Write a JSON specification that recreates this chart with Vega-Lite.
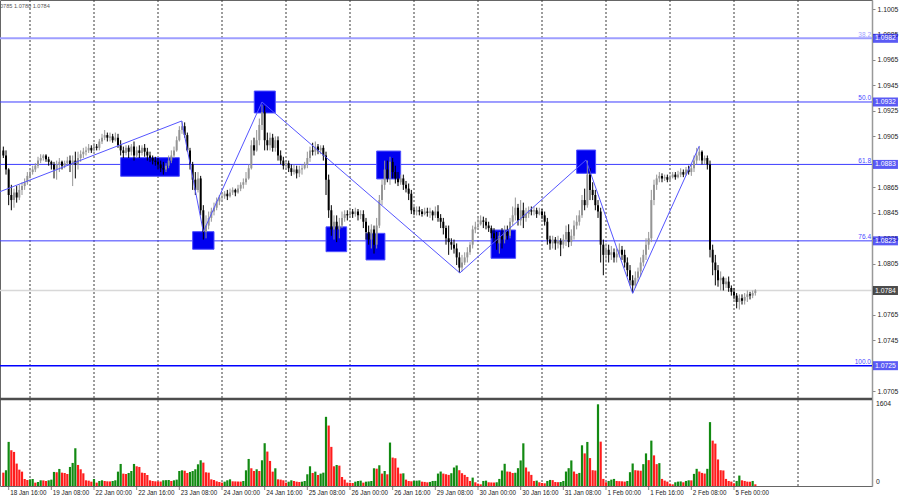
{
"$schema":"https://vega.github.io/schema/vega-lite/v6.json",
"width":872,"height":486,
"autosize":{"type":"none"},
"padding":{"left":0,"top":0,"right":28,"bottom":14},
"background":"white",
"config":{"view":{"stroke":"#666","strokeWidth":1},"scale":{"continuousPadding":0},"axis":{"labelFont":"Liberation Sans"},"text":{"font":"Liberation Sans"}},
"resolve":{"scale":{"y":"independent"},"axis":{"y":"independent"}},
"datasets":{
"grid":[{"i":10},{"i":34},{"i":58},{"i":82},{"i":106},{"i":130},{"i":154},{"i":178},{"i":202},{"i":226},{"i":250},{"i":274},{"i":298}],
"dates":[{"i":2,"t":"18 Jan 16:00"},{"i":18,"t":"19 Jan 08:00"},{"i":34,"t":"22 Jan 00:00"},{"i":50,"t":"22 Jan 16:00"},{"i":66,"t":"23 Jan 08:00"},{"i":82,"t":"24 Jan 00:00"},{"i":98,"t":"24 Jan 16:00"},{"i":114,"t":"25 Jan 08:00"},{"i":130,"t":"26 Jan 00:00"},{"i":146,"t":"26 Jan 16:00"},{"i":162,"t":"29 Jan 08:00"},{"i":178,"t":"30 Jan 00:00"},{"i":194,"t":"30 Jan 16:00"},{"i":210,"t":"31 Jan 08:00"},{"i":226,"t":"1 Feb 00:00"},{"i":242,"t":"1 Feb 16:00"},{"i":258,"t":"2 Feb 08:00"},{"i":274,"t":"5 Feb 00:00"}],
"fib":[{"p":1.0982,"lab":"38.2"},{"p":1.0932,"lab":"50.0"},{"p":1.0883,"lab":"61.8"},{"p":1.0823,"lab":"76.4"},{"p":1.0725,"lab":"100.0"}],
"boxes":[{"p":1.0982,"k":"b"},{"p":1.0932,"k":"b"},{"p":1.0883,"k":"b"},{"p":1.0823,"k":"b"},{"p":1.0725,"k":"b"},{"p":1.0784,"k":"k"}],
"rects":[{"a":44.0,"b":66.0,"lo":1.08737,"hi":1.08883},{"a":71.0,"b":79.0,"lo":1.08164,"hi":1.08302},{"a":94.1,"b":102.0,"lo":1.09234,"hi":1.09406},{"a":121.0,"b":128.75,"lo":1.08145,"hi":1.0834},{"a":136.0,"b":143.1,"lo":1.0808,"hi":1.08289},{"a":140.0,"b":149.0,"lo":1.08716,"hi":1.08935},{"a":182.9,"b":192.1,"lo":1.08093,"hi":1.08315},{"a":215.0,"b":222.1,"lo":1.0876,"hi":1.08943}],
"zz":[{"n":0,"i":-1.25,"p":1.08616},{"n":1,"i":66.9,"p":1.09171},{"n":2,"i":75.0,"p":1.08302},{"n":3,"i":97.0,"p":1.0932},{"n":4,"i":171.2,"p":1.07978},{"n":5,"i":218.5,"p":1.08865},{"n":6,"i":236.0,"p":1.07818},{"n":7,"i":261.0,"p":1.08975}],
"candles":[
{"i":0,"o":1.0894,"h":1.0897,"l":1.0888,"c":1.0890,"v":262,"g":0},
{"i":1,"o":1.0890,"h":1.0894,"l":1.0875,"c":1.0879,"v":308,"g":1},
{"i":2,"o":1.0879,"h":1.0880,"l":1.0851,"c":1.0859,"v":866,"g":1},
{"i":3,"o":1.0859,"h":1.0867,"l":1.0847,"c":1.0855,"v":702,"g":0},
{"i":4,"o":1.0855,"h":1.0864,"l":1.0849,"c":1.0861,"v":669,"g":0},
{"i":5,"o":1.0861,"h":1.0866,"l":1.0853,"c":1.0857,"v":440,"g":0},
{"i":6,"o":1.0857,"h":1.0867,"l":1.0855,"c":1.0863,"v":321,"g":0},
{"i":7,"o":1.0863,"h":1.0869,"l":1.0859,"c":1.0866,"v":282,"g":0},
{"i":8,"o":1.0866,"h":1.0872,"l":1.0863,"c":1.0869,"v":138,"g":0},
{"i":9,"o":1.0869,"h":1.0877,"l":1.0867,"c":1.0874,"v":118,"g":0},
{"i":10,"o":1.0874,"h":1.0880,"l":1.0872,"c":1.0877,"v":131,"g":1},
{"i":11,"o":1.0877,"h":1.0882,"l":1.0875,"c":1.0879,"v":135,"g":1},
{"i":12,"o":1.0879,"h":1.0884,"l":1.0877,"c":1.0882,"v":66,"g":0},
{"i":13,"o":1.0882,"h":1.0889,"l":1.0880,"c":1.0886,"v":79,"g":1},
{"i":14,"o":1.0886,"h":1.0891,"l":1.0884,"c":1.0888,"v":112,"g":1},
{"i":15,"o":1.0888,"h":1.0891,"l":1.0886,"c":1.0890,"v":110,"g":0},
{"i":16,"o":1.0890,"h":1.0891,"l":1.0885,"c":1.0887,"v":98,"g":0},
{"i":17,"o":1.0887,"h":1.0889,"l":1.0882,"c":1.0885,"v":112,"g":1},
{"i":18,"o":1.0885,"h":1.0886,"l":1.0879,"c":1.0883,"v":125,"g":1},
{"i":19,"o":1.0883,"h":1.0885,"l":1.0872,"c":1.0879,"v":276,"g":1},
{"i":20,"o":1.0879,"h":1.0886,"l":1.0871,"c":1.0883,"v":270,"g":0},
{"i":21,"o":1.0883,"h":1.0888,"l":1.0877,"c":1.0885,"v":335,"g":1},
{"i":22,"o":1.0885,"h":1.0886,"l":1.0879,"c":1.0882,"v":262,"g":0},
{"i":23,"o":1.0882,"h":1.0886,"l":1.0880,"c":1.0884,"v":255,"g":0},
{"i":24,"o":1.0884,"h":1.0889,"l":1.0882,"c":1.0886,"v":236,"g":0},
{"i":25,"o":1.0886,"h":1.0890,"l":1.0877,"c":1.0883,"v":374,"g":1},
{"i":26,"o":1.0883,"h":1.0890,"l":1.0866,"c":1.0886,"v":453,"g":1},
{"i":27,"o":1.0886,"h":1.0893,"l":1.0872,"c":1.0883,"v":741,"g":1},
{"i":28,"o":1.0883,"h":1.0893,"l":1.0879,"c":1.0888,"v":413,"g":0},
{"i":29,"o":1.0888,"h":1.0894,"l":1.0885,"c":1.0891,"v":328,"g":0},
{"i":30,"o":1.0891,"h":1.0896,"l":1.0888,"c":1.0893,"v":249,"g":0},
{"i":31,"o":1.0893,"h":1.0897,"l":1.0890,"c":1.0894,"v":112,"g":0},
{"i":32,"o":1.0894,"h":1.0899,"l":1.0892,"c":1.0896,"v":105,"g":0},
{"i":33,"o":1.0896,"h":1.0898,"l":1.0892,"c":1.0894,"v":85,"g":0},
{"i":34,"o":1.0894,"h":1.0900,"l":1.0893,"c":1.0897,"v":138,"g":1},
{"i":35,"o":1.0897,"h":1.0899,"l":1.0894,"c":1.0896,"v":66,"g":0},
{"i":36,"o":1.0896,"h":1.0903,"l":1.0894,"c":1.0901,"v":98,"g":1},
{"i":37,"o":1.0901,"h":1.0907,"l":1.0899,"c":1.0904,"v":112,"g":1},
{"i":38,"o":1.0904,"h":1.0910,"l":1.0902,"c":1.0906,"v":98,"g":0},
{"i":39,"o":1.0906,"h":1.0908,"l":1.0901,"c":1.0904,"v":92,"g":0},
{"i":40,"o":1.0904,"h":1.0908,"l":1.0901,"c":1.0905,"v":90,"g":0},
{"i":41,"o":1.0905,"h":1.0907,"l":1.0900,"c":1.0902,"v":98,"g":1},
{"i":42,"o":1.0902,"h":1.0908,"l":1.0901,"c":1.0904,"v":112,"g":1},
{"i":43,"o":1.0904,"h":1.0907,"l":1.0896,"c":1.0898,"v":282,"g":1},
{"i":44,"o":1.0898,"h":1.0902,"l":1.0890,"c":1.0894,"v":433,"g":1},
{"i":45,"o":1.0894,"h":1.0897,"l":1.0888,"c":1.0892,"v":243,"g":0},
{"i":46,"o":1.0892,"h":1.0898,"l":1.0890,"c":1.0896,"v":236,"g":0},
{"i":47,"o":1.0896,"h":1.0898,"l":1.0888,"c":1.0893,"v":256,"g":1},
{"i":48,"o":1.0893,"h":1.0899,"l":1.0890,"c":1.0897,"v":295,"g":1},
{"i":49,"o":1.0897,"h":1.0901,"l":1.0886,"c":1.0890,"v":433,"g":1},
{"i":50,"o":1.0890,"h":1.0897,"l":1.0888,"c":1.0894,"v":387,"g":0},
{"i":51,"o":1.0894,"h":1.0898,"l":1.0888,"c":1.0892,"v":374,"g":0},
{"i":52,"o":1.0892,"h":1.0898,"l":1.0890,"c":1.0896,"v":262,"g":0},
{"i":53,"o":1.0896,"h":1.0899,"l":1.0889,"c":1.0893,"v":255,"g":0},
{"i":54,"o":1.0893,"h":1.0896,"l":1.0886,"c":1.0890,"v":216,"g":0},
{"i":55,"o":1.0890,"h":1.0893,"l":1.0885,"c":1.0888,"v":112,"g":0},
{"i":56,"o":1.0888,"h":1.0890,"l":1.0883,"c":1.0886,"v":98,"g":0},
{"i":57,"o":1.0886,"h":1.0889,"l":1.0882,"c":1.0885,"v":92,"g":0},
{"i":58,"o":1.0885,"h":1.0888,"l":1.0879,"c":1.0883,"v":90,"g":0},
{"i":59,"o":1.0883,"h":1.0886,"l":1.0877,"c":1.0880,"v":88,"g":0},
{"i":60,"o":1.0880,"h":1.0885,"l":1.0875,"c":1.0879,"v":112,"g":1},
{"i":61,"o":1.0879,"h":1.0884,"l":1.0877,"c":1.0882,"v":115,"g":1},
{"i":62,"o":1.0882,"h":1.0890,"l":1.0880,"c":1.0886,"v":118,"g":1},
{"i":63,"o":1.0886,"h":1.0894,"l":1.0884,"c":1.0890,"v":98,"g":0},
{"i":64,"o":1.0890,"h":1.0897,"l":1.0888,"c":1.0894,"v":112,"g":1},
{"i":65,"o":1.0894,"h":1.0905,"l":1.0893,"c":1.0902,"v":125,"g":1},
{"i":66,"o":1.0902,"h":1.0913,"l":1.0901,"c":1.0910,"v":295,"g":1},
{"i":67,"o":1.0910,"h":1.0917,"l":1.0907,"c":1.0913,"v":308,"g":1},
{"i":68,"o":1.0913,"h":1.0916,"l":1.0904,"c":1.0906,"v":300,"g":0},
{"i":69,"o":1.0906,"h":1.0908,"l":1.0893,"c":1.0894,"v":256,"g":0},
{"i":70,"o":1.0894,"h":1.0896,"l":1.0879,"c":1.0883,"v":276,"g":1},
{"i":71,"o":1.0883,"h":1.0885,"l":1.0863,"c":1.0871,"v":295,"g":1},
{"i":72,"o":1.0871,"h":1.0877,"l":1.0859,"c":1.0863,"v":328,"g":1},
{"i":73,"o":1.0863,"h":1.0877,"l":1.0861,"c":1.0872,"v":426,"g":1},
{"i":74,"o":1.0872,"h":1.0874,"l":1.0843,"c":1.0847,"v":505,"g":1},
{"i":75,"o":1.0847,"h":1.0851,"l":1.0824,"c":1.0830,"v":459,"g":0},
{"i":76,"o":1.0830,"h":1.0843,"l":1.0825,"c":1.0835,"v":269,"g":0},
{"i":77,"o":1.0835,"h":1.0846,"l":1.0832,"c":1.0841,"v":262,"g":0},
{"i":78,"o":1.0841,"h":1.0849,"l":1.0838,"c":1.0846,"v":131,"g":0},
{"i":79,"o":1.0846,"h":1.0853,"l":1.0843,"c":1.0849,"v":118,"g":0},
{"i":80,"o":1.0849,"h":1.0857,"l":1.0847,"c":1.0854,"v":92,"g":0},
{"i":81,"o":1.0854,"h":1.0859,"l":1.0851,"c":1.0857,"v":79,"g":0},
{"i":82,"o":1.0857,"h":1.0861,"l":1.0855,"c":1.0858,"v":66,"g":0},
{"i":83,"o":1.0858,"h":1.0862,"l":1.0856,"c":1.0860,"v":85,"g":1},
{"i":84,"o":1.0860,"h":1.0863,"l":1.0855,"c":1.0858,"v":112,"g":1},
{"i":85,"o":1.0858,"h":1.0864,"l":1.0857,"c":1.0861,"v":131,"g":1},
{"i":86,"o":1.0861,"h":1.0865,"l":1.0859,"c":1.0863,"v":92,"g":0},
{"i":87,"o":1.0863,"h":1.0864,"l":1.0858,"c":1.0861,"v":90,"g":0},
{"i":88,"o":1.0861,"h":1.0867,"l":1.0860,"c":1.0864,"v":88,"g":0},
{"i":89,"o":1.0864,"h":1.0869,"l":1.0862,"c":1.0867,"v":86,"g":0},
{"i":90,"o":1.0867,"h":1.0872,"l":1.0864,"c":1.0869,"v":98,"g":1},
{"i":91,"o":1.0869,"h":1.0877,"l":1.0867,"c":1.0872,"v":308,"g":1},
{"i":92,"o":1.0872,"h":1.0883,"l":1.0871,"c":1.0880,"v":531,"g":1},
{"i":93,"o":1.0880,"h":1.0902,"l":1.0879,"c":1.0898,"v":348,"g":0},
{"i":94,"o":1.0898,"h":1.0904,"l":1.0890,"c":1.0894,"v":295,"g":0},
{"i":95,"o":1.0894,"h":1.0910,"l":1.0893,"c":1.0902,"v":328,"g":1},
{"i":96,"o":1.0902,"h":1.0919,"l":1.0898,"c":1.0914,"v":295,"g":0},
{"i":97,"o":1.0914,"h":1.0930,"l":1.0910,"c":1.0924,"v":505,"g":1},
{"i":98,"o":1.0924,"h":1.0929,"l":1.0894,"c":1.0902,"v":840,"g":1},
{"i":99,"o":1.0902,"h":1.0908,"l":1.0894,"c":1.0898,"v":676,"g":0},
{"i":100,"o":1.0898,"h":1.0908,"l":1.0894,"c":1.0904,"v":492,"g":0},
{"i":101,"o":1.0904,"h":1.0907,"l":1.0893,"c":1.0896,"v":282,"g":0},
{"i":102,"o":1.0896,"h":1.0905,"l":1.0893,"c":1.0902,"v":348,"g":1},
{"i":103,"o":1.0902,"h":1.0905,"l":1.0886,"c":1.0890,"v":131,"g":0},
{"i":104,"o":1.0890,"h":1.0894,"l":1.0883,"c":1.0886,"v":125,"g":0},
{"i":105,"o":1.0886,"h":1.0889,"l":1.0879,"c":1.0882,"v":112,"g":0},
{"i":106,"o":1.0882,"h":1.0886,"l":1.0879,"c":1.0884,"v":66,"g":0},
{"i":107,"o":1.0884,"h":1.0886,"l":1.0877,"c":1.0880,"v":85,"g":1},
{"i":108,"o":1.0880,"h":1.0883,"l":1.0874,"c":1.0877,"v":112,"g":1},
{"i":109,"o":1.0877,"h":1.0883,"l":1.0875,"c":1.0879,"v":98,"g":0},
{"i":110,"o":1.0879,"h":1.0882,"l":1.0872,"c":1.0876,"v":85,"g":0},
{"i":111,"o":1.0876,"h":1.0882,"l":1.0873,"c":1.0879,"v":79,"g":0},
{"i":112,"o":1.0879,"h":1.0883,"l":1.0875,"c":1.0880,"v":85,"g":1},
{"i":113,"o":1.0880,"h":1.0885,"l":1.0879,"c":1.0883,"v":98,"g":1},
{"i":114,"o":1.0883,"h":1.0893,"l":1.0880,"c":1.0888,"v":230,"g":1},
{"i":115,"o":1.0888,"h":1.0897,"l":1.0885,"c":1.0894,"v":387,"g":1},
{"i":116,"o":1.0894,"h":1.0900,"l":1.0890,"c":1.0893,"v":256,"g":0},
{"i":117,"o":1.0893,"h":1.0901,"l":1.0890,"c":1.0897,"v":282,"g":1},
{"i":118,"o":1.0897,"h":1.0899,"l":1.0891,"c":1.0894,"v":216,"g":0},
{"i":119,"o":1.0894,"h":1.0898,"l":1.0891,"c":1.0896,"v":243,"g":1},
{"i":120,"o":1.0896,"h":1.0898,"l":1.0886,"c":1.0890,"v":262,"g":1},
{"i":121,"o":1.0890,"h":1.0893,"l":1.0859,"c":1.0871,"v":1358,"g":1},
{"i":122,"o":1.0871,"h":1.0875,"l":1.0841,"c":1.0847,"v":1187,"g":0},
{"i":123,"o":1.0847,"h":1.0851,"l":1.0827,"c":1.0832,"v":768,"g":0},
{"i":124,"o":1.0832,"h":1.0843,"l":1.0824,"c":1.0838,"v":387,"g":0},
{"i":125,"o":1.0838,"h":1.0843,"l":1.0822,"c":1.0832,"v":413,"g":1},
{"i":126,"o":1.0832,"h":1.0841,"l":1.0825,"c":1.0835,"v":400,"g":0},
{"i":127,"o":1.0835,"h":1.0846,"l":1.0833,"c":1.0841,"v":177,"g":0},
{"i":128,"o":1.0841,"h":1.0847,"l":1.0838,"c":1.0844,"v":125,"g":0},
{"i":129,"o":1.0844,"h":1.0847,"l":1.0839,"c":1.0843,"v":66,"g":0},
{"i":130,"o":1.0843,"h":1.0849,"l":1.0841,"c":1.0846,"v":64,"g":0},
{"i":131,"o":1.0846,"h":1.0848,"l":1.0841,"c":1.0844,"v":59,"g":0},
{"i":132,"o":1.0844,"h":1.0849,"l":1.0842,"c":1.0846,"v":85,"g":1},
{"i":133,"o":1.0846,"h":1.0848,"l":1.0839,"c":1.0843,"v":98,"g":1},
{"i":134,"o":1.0843,"h":1.0847,"l":1.0840,"c":1.0844,"v":105,"g":1},
{"i":135,"o":1.0844,"h":1.0847,"l":1.0833,"c":1.0838,"v":66,"g":0},
{"i":136,"o":1.0838,"h":1.0841,"l":1.0824,"c":1.0830,"v":85,"g":1},
{"i":137,"o":1.0830,"h":1.0835,"l":1.0820,"c":1.0824,"v":90,"g":1},
{"i":138,"o":1.0824,"h":1.0836,"l":1.0817,"c":1.0832,"v":98,"g":1},
{"i":139,"o":1.0832,"h":1.0835,"l":1.0813,"c":1.0820,"v":348,"g":1},
{"i":140,"o":1.0820,"h":1.0841,"l":1.0817,"c":1.0835,"v":340,"g":0},
{"i":141,"o":1.0835,"h":1.0859,"l":1.0833,"c":1.0855,"v":407,"g":1},
{"i":142,"o":1.0855,"h":1.0871,"l":1.0851,"c":1.0867,"v":243,"g":0},
{"i":143,"o":1.0867,"h":1.0886,"l":1.0863,"c":1.0879,"v":295,"g":1},
{"i":144,"o":1.0879,"h":1.0886,"l":1.0869,"c":1.0872,"v":230,"g":0},
{"i":145,"o":1.0872,"h":1.0889,"l":1.0867,"c":1.0885,"v":853,"g":1},
{"i":146,"o":1.0885,"h":1.0888,"l":1.0872,"c":1.0877,"v":558,"g":0},
{"i":147,"o":1.0877,"h":1.0882,"l":1.0868,"c":1.0872,"v":545,"g":0},
{"i":148,"o":1.0872,"h":1.0877,"l":1.0866,"c":1.0869,"v":361,"g":0},
{"i":149,"o":1.0869,"h":1.0875,"l":1.0867,"c":1.0872,"v":243,"g":0},
{"i":150,"o":1.0872,"h":1.0875,"l":1.0863,"c":1.0867,"v":249,"g":1},
{"i":151,"o":1.0867,"h":1.0870,"l":1.0861,"c":1.0864,"v":125,"g":0},
{"i":152,"o":1.0864,"h":1.0868,"l":1.0855,"c":1.0860,"v":98,"g":0},
{"i":153,"o":1.0860,"h":1.0863,"l":1.0844,"c":1.0847,"v":92,"g":0},
{"i":154,"o":1.0847,"h":1.0850,"l":1.0843,"c":1.0846,"v":98,"g":1},
{"i":155,"o":1.0846,"h":1.0850,"l":1.0843,"c":1.0847,"v":105,"g":1},
{"i":156,"o":1.0847,"h":1.0850,"l":1.0843,"c":1.0846,"v":110,"g":1},
{"i":157,"o":1.0846,"h":1.0848,"l":1.0842,"c":1.0844,"v":85,"g":0},
{"i":158,"o":1.0844,"h":1.0849,"l":1.0843,"c":1.0846,"v":80,"g":0},
{"i":159,"o":1.0846,"h":1.0849,"l":1.0842,"c":1.0845,"v":72,"g":0},
{"i":160,"o":1.0845,"h":1.0849,"l":1.0841,"c":1.0846,"v":80,"g":1},
{"i":161,"o":1.0846,"h":1.0847,"l":1.0839,"c":1.0843,"v":99,"g":1},
{"i":162,"o":1.0843,"h":1.0850,"l":1.0841,"c":1.0846,"v":100,"g":1},
{"i":163,"o":1.0846,"h":1.0851,"l":1.0838,"c":1.0841,"v":244,"g":1},
{"i":164,"o":1.0841,"h":1.0844,"l":1.0833,"c":1.0838,"v":284,"g":1},
{"i":165,"o":1.0838,"h":1.0841,"l":1.0828,"c":1.0833,"v":244,"g":0},
{"i":166,"o":1.0833,"h":1.0835,"l":1.0820,"c":1.0825,"v":231,"g":0},
{"i":167,"o":1.0825,"h":1.0835,"l":1.0812,"c":1.0822,"v":218,"g":0},
{"i":168,"o":1.0822,"h":1.0825,"l":1.0816,"c":1.0820,"v":251,"g":1},
{"i":169,"o":1.0820,"h":1.0824,"l":1.0813,"c":1.0817,"v":363,"g":1},
{"i":170,"o":1.0817,"h":1.0821,"l":1.0804,"c":1.0810,"v":403,"g":1},
{"i":171,"o":1.0810,"h":1.0814,"l":1.0798,"c":1.0802,"v":310,"g":0},
{"i":172,"o":1.0802,"h":1.0812,"l":1.0799,"c":1.0806,"v":251,"g":0},
{"i":173,"o":1.0806,"h":1.0814,"l":1.0804,"c":1.0810,"v":218,"g":0},
{"i":174,"o":1.0810,"h":1.0818,"l":1.0806,"c":1.0814,"v":178,"g":0},
{"i":175,"o":1.0814,"h":1.0822,"l":1.0812,"c":1.0820,"v":99,"g":0},
{"i":176,"o":1.0820,"h":1.0835,"l":1.0817,"c":1.0832,"v":165,"g":1},
{"i":177,"o":1.0832,"h":1.0838,"l":1.0829,"c":1.0834,"v":73,"g":0},
{"i":178,"o":1.0834,"h":1.0841,"l":1.0832,"c":1.0836,"v":46,"g":0},
{"i":179,"o":1.0836,"h":1.0843,"l":1.0835,"c":1.0839,"v":33,"g":0},
{"i":180,"o":1.0839,"h":1.0842,"l":1.0833,"c":1.0838,"v":99,"g":1},
{"i":181,"o":1.0838,"h":1.0841,"l":1.0832,"c":1.0835,"v":105,"g":1},
{"i":182,"o":1.0835,"h":1.0838,"l":1.0830,"c":1.0833,"v":73,"g":0},
{"i":183,"o":1.0833,"h":1.0835,"l":1.0825,"c":1.0829,"v":70,"g":0},
{"i":184,"o":1.0829,"h":1.0833,"l":1.0822,"c":1.0825,"v":68,"g":0},
{"i":185,"o":1.0825,"h":1.0830,"l":1.0816,"c":1.0821,"v":73,"g":1},
{"i":186,"o":1.0821,"h":1.0830,"l":1.0813,"c":1.0827,"v":139,"g":1},
{"i":187,"o":1.0827,"h":1.0833,"l":1.0817,"c":1.0824,"v":304,"g":1},
{"i":188,"o":1.0824,"h":1.0835,"l":1.0821,"c":1.0830,"v":436,"g":1},
{"i":189,"o":1.0830,"h":1.0835,"l":1.0824,"c":1.0827,"v":284,"g":0},
{"i":190,"o":1.0827,"h":1.0841,"l":1.0825,"c":1.0838,"v":280,"g":0},
{"i":191,"o":1.0838,"h":1.0850,"l":1.0835,"c":1.0843,"v":257,"g":0},
{"i":192,"o":1.0843,"h":1.0857,"l":1.0839,"c":1.0849,"v":260,"g":1},
{"i":193,"o":1.0849,"h":1.0852,"l":1.0835,"c":1.0839,"v":350,"g":1},
{"i":194,"o":1.0839,"h":1.0855,"l":1.0835,"c":1.0847,"v":502,"g":1},
{"i":195,"o":1.0847,"h":1.0853,"l":1.0833,"c":1.0841,"v":838,"g":1},
{"i":196,"o":1.0841,"h":1.0849,"l":1.0838,"c":1.0844,"v":363,"g":0},
{"i":197,"o":1.0844,"h":1.0850,"l":1.0841,"c":1.0847,"v":284,"g":0},
{"i":198,"o":1.0847,"h":1.0850,"l":1.0843,"c":1.0846,"v":218,"g":0},
{"i":199,"o":1.0846,"h":1.0850,"l":1.0843,"c":1.0847,"v":99,"g":0},
{"i":200,"o":1.0847,"h":1.0849,"l":1.0841,"c":1.0844,"v":106,"g":1},
{"i":201,"o":1.0844,"h":1.0849,"l":1.0843,"c":1.0846,"v":73,"g":0},
{"i":202,"o":1.0846,"h":1.0848,"l":1.0840,"c":1.0843,"v":59,"g":0},
{"i":203,"o":1.0843,"h":1.0846,"l":1.0835,"c":1.0838,"v":53,"g":0},
{"i":204,"o":1.0838,"h":1.0841,"l":1.0820,"c":1.0824,"v":99,"g":1},
{"i":205,"o":1.0824,"h":1.0827,"l":1.0816,"c":1.0821,"v":119,"g":1},
{"i":206,"o":1.0821,"h":1.0827,"l":1.0817,"c":1.0824,"v":115,"g":0},
{"i":207,"o":1.0824,"h":1.0826,"l":1.0816,"c":1.0821,"v":79,"g":0},
{"i":208,"o":1.0821,"h":1.0827,"l":1.0817,"c":1.0823,"v":75,"g":0},
{"i":209,"o":1.0823,"h":1.0825,"l":1.0811,"c":1.0820,"v":79,"g":1},
{"i":210,"o":1.0820,"h":1.0828,"l":1.0817,"c":1.0824,"v":99,"g":1},
{"i":211,"o":1.0824,"h":1.0835,"l":1.0819,"c":1.0830,"v":284,"g":1},
{"i":212,"o":1.0830,"h":1.0836,"l":1.0818,"c":1.0822,"v":350,"g":1},
{"i":213,"o":1.0822,"h":1.0832,"l":1.0819,"c":1.0827,"v":502,"g":1},
{"i":214,"o":1.0827,"h":1.0839,"l":1.0824,"c":1.0835,"v":284,"g":0},
{"i":215,"o":1.0835,"h":1.0843,"l":1.0832,"c":1.0838,"v":238,"g":0},
{"i":216,"o":1.0838,"h":1.0847,"l":1.0835,"c":1.0843,"v":257,"g":1},
{"i":217,"o":1.0843,"h":1.0859,"l":1.0841,"c":1.0855,"v":799,"g":1},
{"i":218,"o":1.0855,"h":1.0864,"l":1.0847,"c":1.0851,"v":640,"g":0},
{"i":219,"o":1.0851,"h":1.0886,"l":1.0849,"c":1.0875,"v":865,"g":1},
{"i":220,"o":1.0875,"h":1.0880,"l":1.0855,"c":1.0863,"v":548,"g":0},
{"i":221,"o":1.0863,"h":1.0869,"l":1.0855,"c":1.0859,"v":310,"g":0},
{"i":222,"o":1.0859,"h":1.0863,"l":1.0847,"c":1.0851,"v":304,"g":0},
{"i":223,"o":1.0851,"h":1.0855,"l":1.0841,"c":1.0846,"v":1604,"g":1},
{"i":224,"o":1.0846,"h":1.0849,"l":1.0806,"c":1.0820,"v":871,"g":0},
{"i":225,"o":1.0820,"h":1.0824,"l":1.0796,"c":1.0812,"v":139,"g":0},
{"i":226,"o":1.0812,"h":1.0821,"l":1.0806,"c":1.0816,"v":73,"g":0},
{"i":227,"o":1.0816,"h":1.0820,"l":1.0806,"c":1.0812,"v":99,"g":1},
{"i":228,"o":1.0812,"h":1.0819,"l":1.0808,"c":1.0814,"v":125,"g":1},
{"i":229,"o":1.0814,"h":1.0817,"l":1.0806,"c":1.0810,"v":139,"g":1},
{"i":230,"o":1.0810,"h":1.0817,"l":1.0806,"c":1.0813,"v":99,"g":0},
{"i":231,"o":1.0813,"h":1.0821,"l":1.0810,"c":1.0816,"v":95,"g":0},
{"i":232,"o":1.0816,"h":1.0819,"l":1.0808,"c":1.0812,"v":92,"g":0},
{"i":233,"o":1.0812,"h":1.0816,"l":1.0802,"c":1.0806,"v":86,"g":0},
{"i":234,"o":1.0806,"h":1.0810,"l":1.0795,"c":1.0800,"v":99,"g":1},
{"i":235,"o":1.0800,"h":1.0804,"l":1.0788,"c":1.0792,"v":271,"g":1},
{"i":236,"o":1.0792,"h":1.0796,"l":1.0782,"c":1.0788,"v":442,"g":1},
{"i":237,"o":1.0788,"h":1.0799,"l":1.0786,"c":1.0794,"v":310,"g":0},
{"i":238,"o":1.0794,"h":1.0802,"l":1.0791,"c":1.0799,"v":304,"g":0},
{"i":239,"o":1.0799,"h":1.0810,"l":1.0795,"c":1.0806,"v":300,"g":0},
{"i":240,"o":1.0806,"h":1.0816,"l":1.0803,"c":1.0812,"v":429,"g":1},
{"i":241,"o":1.0812,"h":1.0825,"l":1.0808,"c":1.0820,"v":640,"g":1},
{"i":242,"o":1.0820,"h":1.0830,"l":1.0816,"c":1.0825,"v":508,"g":0},
{"i":243,"o":1.0825,"h":1.0863,"l":1.0822,"c":1.0855,"v":891,"g":1},
{"i":244,"o":1.0855,"h":1.0871,"l":1.0851,"c":1.0867,"v":601,"g":0},
{"i":245,"o":1.0867,"h":1.0875,"l":1.0863,"c":1.0872,"v":429,"g":0},
{"i":246,"o":1.0872,"h":1.0877,"l":1.0869,"c":1.0874,"v":449,"g":1},
{"i":247,"o":1.0874,"h":1.0876,"l":1.0869,"c":1.0872,"v":139,"g":0},
{"i":248,"o":1.0872,"h":1.0875,"l":1.0870,"c":1.0873,"v":106,"g":0},
{"i":249,"o":1.0873,"h":1.0875,"l":1.0869,"c":1.0871,"v":86,"g":0},
{"i":250,"o":1.0871,"h":1.0875,"l":1.0870,"c":1.0873,"v":46,"g":0},
{"i":251,"o":1.0873,"h":1.0877,"l":1.0872,"c":1.0875,"v":33,"g":0},
{"i":252,"o":1.0875,"h":1.0877,"l":1.0871,"c":1.0873,"v":73,"g":1},
{"i":253,"o":1.0873,"h":1.0878,"l":1.0872,"c":1.0875,"v":86,"g":1},
{"i":254,"o":1.0875,"h":1.0880,"l":1.0873,"c":1.0877,"v":90,"g":1},
{"i":255,"o":1.0877,"h":1.0879,"l":1.0873,"c":1.0875,"v":73,"g":0},
{"i":256,"o":1.0875,"h":1.0881,"l":1.0874,"c":1.0879,"v":99,"g":1},
{"i":257,"o":1.0879,"h":1.0882,"l":1.0875,"c":1.0877,"v":112,"g":1},
{"i":258,"o":1.0877,"h":1.0883,"l":1.0874,"c":1.0880,"v":110,"g":0},
{"i":259,"o":1.0880,"h":1.0890,"l":1.0877,"c":1.0886,"v":238,"g":1},
{"i":260,"o":1.0886,"h":1.0896,"l":1.0883,"c":1.0890,"v":337,"g":1},
{"i":261,"o":1.0890,"h":1.0897,"l":1.0886,"c":1.0893,"v":284,"g":0},
{"i":262,"o":1.0893,"h":1.0894,"l":1.0883,"c":1.0886,"v":257,"g":0},
{"i":263,"o":1.0886,"h":1.0890,"l":1.0883,"c":1.0888,"v":244,"g":0},
{"i":264,"o":1.0888,"h":1.0890,"l":1.0879,"c":1.0883,"v":337,"g":1},
{"i":265,"o":1.0883,"h":1.0886,"l":1.0810,"c":1.0816,"v":1254,"g":1},
{"i":266,"o":1.0816,"h":1.0820,"l":1.0796,"c":1.0806,"v":891,"g":0},
{"i":267,"o":1.0806,"h":1.0812,"l":1.0788,"c":1.0800,"v":832,"g":0},
{"i":268,"o":1.0800,"h":1.0804,"l":1.0787,"c":1.0792,"v":521,"g":0},
{"i":269,"o":1.0792,"h":1.0799,"l":1.0784,"c":1.0794,"v":310,"g":0},
{"i":270,"o":1.0794,"h":1.0795,"l":1.0784,"c":1.0789,"v":305,"g":0},
{"i":271,"o":1.0789,"h":1.0794,"l":1.0786,"c":1.0791,"v":139,"g":0},
{"i":272,"o":1.0791,"h":1.0795,"l":1.0783,"c":1.0786,"v":99,"g":0},
{"i":273,"o":1.0786,"h":1.0788,"l":1.0780,"c":1.0783,"v":86,"g":0},
{"i":274,"o":1.0783,"h":1.0786,"l":1.0777,"c":1.0780,"v":53,"g":0},
{"i":275,"o":1.0780,"h":1.0782,"l":1.0770,"c":1.0775,"v":99,"g":1},
{"i":276,"o":1.0775,"h":1.0781,"l":1.0769,"c":1.0778,"v":205,"g":1},
{"i":277,"o":1.0778,"h":1.0781,"l":1.0773,"c":1.0776,"v":112,"g":0},
{"i":278,"o":1.0776,"h":1.0782,"l":1.0773,"c":1.0779,"v":99,"g":0},
{"i":279,"o":1.0779,"h":1.0784,"l":1.0775,"c":1.0781,"v":86,"g":0},
{"i":280,"o":1.0781,"h":1.0783,"l":1.0777,"c":1.0780,"v":84,"g":0},
{"i":281,"o":1.0780,"h":1.0784,"l":1.0778,"c":1.0782,"v":99,"g":1},
{"i":282,"o":1.0782,"h":1.0785,"l":1.0780,"c":1.0784,"v":33,"g":0}
]
},
"layer":[
{"data":{"name":"grid"},"mark":{"type":"rule","color":"#3a3a3a","strokeDash":[2,2],"strokeWidth":1},
 "encoding":{"x":{"field":"i","type":"quantitative","scale":{"domain":[-1.25,325.75],"nice":false,"zero":false,"padding":0},"axis":null}}},
{"data":{"values":[{"p":1.0784}]},"mark":{"type":"rule","color":"#d8d8d8","strokeWidth":1.5},
 "encoding":{"y":{"field":"p","type":"quantitative","scale":{"domain":[1.063055,1.101207],"nice":false,"zero":false},
  "axis":{"orient":"right","title":null,"values":[1.0705,1.0745,1.0765,1.0805,1.0825,1.0845,1.0865,1.0905,1.0925,1.0945,1.0965,1.0985,1.1005],"format":".4f","tickSize":3,"tickColor":"#888","domainColor":"#999","domainWidth":1.5,"labelPadding":2,"labelFontSize":6.8,"labelColor":"#222","grid":false,"labelFlush":false,"labelOverlap":false,"labelBound":false}}}},
{"data":{"name":"fib"},"mark":{"type":"rule"},
 "encoding":{"y":{"field":"p","type":"quantitative","scale":{"domain":[1.063055,1.101207],"nice":false,"zero":false},"axis":null},
  "color":{"condition":[{"test":"datum.lab=='38.2'","value":"#9e9eff"},{"test":"datum.lab=='100.0'","value":"#0000ff"}],"value":"#3c3cff"},
  "strokeWidth":{"condition":[{"test":"datum.lab=='38.2'","value":2},{"test":"datum.lab=='100.0'","value":1.5}],"value":1}}},
{"data":{"name":"fib"},"mark":{"type":"text","align":"right","baseline":"bottom","dx":-1,"dy":-0.5,"fontSize":6.5},
 "encoding":{"x":{"value":"width"},"y":{"field":"p","type":"quantitative","scale":{"domain":[1.063055,1.101207],"nice":false,"zero":false},"axis":null},
  "text":{"field":"lab"},
  "color":{"condition":{"test":"datum.lab=='38.2'","value":"#9e9eff"},"value":"#4a4aff"}}},
{"data":{"values":[{"p":1.069885}]},"mark":{"type":"rule","color":"#4d4d4d","strokeWidth":2.5},
 "encoding":{"y":{"field":"p","type":"quantitative","scale":{"domain":[1.063055,1.101207],"nice":false,"zero":false},"axis":null}}},
{"data":{"name":"rects"},"mark":{"type":"rect","color":"#0000f0","stroke":"#4f4fff","strokeWidth":1},
 "encoding":{"x":{"field":"a","type":"quantitative","scale":{"domain":[-1.25,325.75],"nice":false,"zero":false,"padding":0},"axis":null},"x2":{"field":"b"},
  "y":{"field":"lo","type":"quantitative","scale":{"domain":[1.063055,1.101207],"nice":false,"zero":false},"axis":null},"y2":{"field":"hi"}}},
{"data":{"name":"candles"},"mark":{"type":"rule","strokeWidth":1},
 "encoding":{"x":{"field":"i","type":"quantitative","scale":{"domain":[-1.25,325.75],"nice":false,"zero":false,"padding":0},"axis":null},
  "y":{"field":"l","type":"quantitative","scale":{"domain":[1.063055,1.101207],"nice":false,"zero":false},"axis":null},"y2":{"field":"h"},
  "color":{"condition":{"test":"datum.c >= datum.o","value":"#959595"},"value":"#000000"}}},
{"data":{"name":"candles"},"mark":{"type":"bar","width":2,"orient":"vertical"},
 "encoding":{"x":{"field":"i","type":"quantitative","scale":{"domain":[-1.25,325.75],"nice":false,"zero":false,"padding":0},"axis":null},
  "y":{"field":"o","type":"quantitative","scale":{"domain":[1.063055,1.101207],"nice":false,"zero":false},"axis":null},"y2":{"field":"c"},
  "color":{"condition":{"test":"datum.c >= datum.o","value":"#959595"},"value":"#000000"}}},
{"data":{"name":"zz"},"mark":{"type":"line","color":"#5555ff","strokeWidth":1},
 "encoding":{"x":{"field":"i","type":"quantitative","scale":{"domain":[-1.25,325.75],"nice":false,"zero":false,"padding":0},"axis":null},
  "y":{"field":"p","type":"quantitative","scale":{"domain":[1.063055,1.101207],"nice":false,"zero":false},"axis":null},
  "order":{"field":"n","type":"quantitative"}}},
{"data":{"name":"candles"},"mark":{"type":"bar","width":2.2,"orient":"vertical"},
 "encoding":{"x":{"field":"i","type":"quantitative","scale":{"domain":[-1.25,325.75],"nice":false,"zero":false,"padding":0},"axis":null},
  "y":{"field":"v","type":"quantitative","scale":{"domain":[0,9541],"nice":false,"zero":true},"axis":null},
  "color":{"condition":{"test":"datum.g == 1","value":"#128a12"},"value":"#ff1c1c"}}},
{"data":{"values":[{"v":1604}]},"mark":{"type":"text","align":"left","baseline":"middle","dx":4,"fontSize":6.8,"color":"#222"},
 "encoding":{"x":{"value":"width"},"y":{"field":"v","type":"quantitative","scale":{"domain":[0,9541],"nice":false,"zero":true},"axis":null},"text":{"field":"v","type":"quantitative","format":"d"}}},
{"data":{"values":[{"v":0}]},"mark":{"type":"text","align":"left","baseline":"bottom","dx":4,"dy":-1,"fontSize":6.8,"color":"#222"},
 "encoding":{"x":{"value":"width"},"y":{"field":"v","type":"quantitative","scale":{"domain":[0,9541],"nice":false,"zero":true},"axis":null},"text":{"field":"v","type":"quantitative","format":"d"}}},
{"data":{"name":"dates"},"mark":{"type":"tick","orient":"vertical","size":4,"thickness":1,"yOffset":2,"color":"#555"},
 "encoding":{"x":{"field":"i","type":"quantitative","scale":{"domain":[-1.25,325.75],"nice":false,"zero":false,"padding":0},"axis":null},
  "y":{"value":"height"}}},
{"data":{"name":"dates"},"mark":{"type":"text","align":"left","baseline":"top","dx":1.5,"dy":3.5,"fontSize":6.3,"color":"#222"},
 "encoding":{"x":{"field":"i","type":"quantitative","scale":{"domain":[-1.25,325.75],"nice":false,"zero":false,"padding":0},"axis":null},
  "y":{"value":"height"},"text":{"field":"t"}}},
{"data":{"name":"boxes"},"mark":{"type":"tick","orient":"horizontal","size":25,"thickness":9},
 "encoding":{"x":{"datum":330.8,"type":"quantitative","scale":{"domain":[-1.25,325.75],"nice":false,"zero":false,"padding":0},"axis":null},
  "y":{"field":"p","type":"quantitative","scale":{"domain":[1.063055,1.101207],"nice":false,"zero":false},"axis":null},
  "color":{"condition":{"test":"datum.k=='k'","value":"#000000"},"value":"#1414f0"}}},
{"data":{"name":"boxes"},"mark":{"type":"text","align":"center","baseline":"middle","fontSize":6.8,"color":"#ffffff"},
 "encoding":{"x":{"datum":330.8,"type":"quantitative","scale":{"domain":[-1.25,325.75],"nice":false,"zero":false,"padding":0},"axis":null},
  "y":{"field":"p","type":"quantitative","scale":{"domain":[1.063055,1.101207],"nice":false,"zero":false},"axis":null},
  "text":{"field":"p","type":"quantitative","format":".4f"}}},
{"data":{"values":[{"t":"0785 1.0780 1.0784"}]},"mark":{"type":"text","align":"left","baseline":"middle","fontSize":5.6,"color":"#555555"},
 "encoding":{"x":{"datum":-1.25,"type":"quantitative","scale":{"domain":[-1.25,325.75],"nice":false,"zero":false,"padding":0},"axis":null},
  "y":{"datum":1.10074,"type":"quantitative","scale":{"domain":[1.063055,1.101207],"nice":false,"zero":false},"axis":null},
  "text":{"field":"t"}}}
]
}
